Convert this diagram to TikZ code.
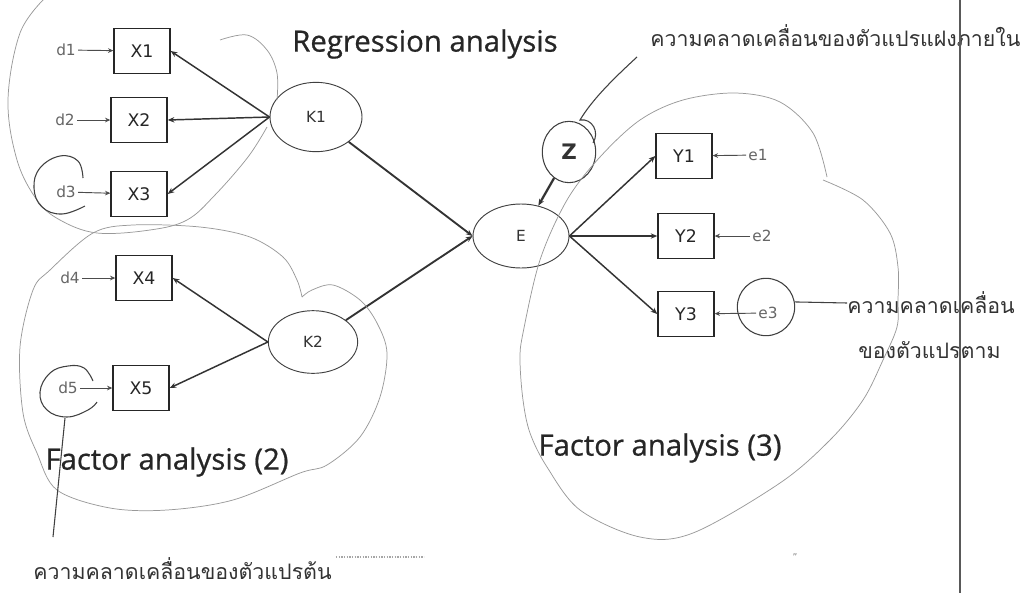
\documentclass[tikz,border=0pt]{standalone}
\usepackage{fontspec}
\setmainfont{DejaVu Sans}
\newfontfamily\titlefont[FakeBold=0.7]{Open Sans}
\newfontfamily\thaifont[Script=Thai]{Loma}
\usetikzlibrary{arrows.meta,shapes.geometric}
\begin{document}
\begin{tikzpicture}[x=0.75pt,y=-0.75pt,
  box/.style={draw=black!85, line width=1pt, minimum width=42pt, minimum height=34pt,
    inner sep=0pt, font=\fontsize{13}{15}\selectfont, text=black!85},
  lat/.style={draw=black!75, line width=0.7pt, ellipse, inner sep=0pt,
    font=\fontsize{11.5}{13}\selectfont, text=black!80},
  err/.style={inner sep=1.5pt, font=\fontsize{11.5}{13}\selectfont, text=black!60},
  pathar/.style={draw=black!80, line width=1.1pt, -{Stealth[length=5pt,width=4pt]}},
  smallar/.style={draw=black!70, line width=0.7pt, -{Stealth[length=4pt,width=3.5pt]}},
  grp/.style={draw=black!40, line width=0.55pt},
  hand/.style={draw=black!75, line width=0.8pt},
  ttl/.style={font=\titlefont\fontsize{22}{26}\selectfont, text=black!85, inner sep=0pt},
  thai/.style={font=\thaifont\fontsize{16}{18}\selectfont, text=black!80, inner sep=0pt, anchor=west}
]
\path[use as bounding box, fill=white] (0,0) rectangle (1031,593);

% observed X
\node[box] (X1) at (142,51) {X1};
\node[box] (X2) at (139,120) {X2};
\node[box] (X3) at (139,194) {X3};
\node[box] (X4) at (144,278) {X4};
\node[box] (X5) at (141,388) {X5};
% errors d
\node[err] (d1) at (66,50) {d1};
\node[err] (d2) at (65,120) {d2};
\node[err] (d3) at (66,192) {d3};
\node[err] (d4) at (70,278) {d4};
\node[err] (d5) at (68,388) {d5};
% latent
\node[lat, minimum width=69pt, minimum height=52pt] (K1) at (316,117) {K1};
\node[lat, minimum width=67pt, minimum height=47pt] (K2) at (313,342) {K2};
\node[lat, minimum width=72pt, minimum height=48pt] (E) at (521,236) {E};
\node[ellipse, hand, minimum width=40pt, minimum height=46pt, inner sep=0pt,
  font=\fontsize{16}{18}\selectfont\bfseries, text=black!80] (Z) at (569,152) {Z};
% observed Y
\node[box] (Y1) at (684,156) {Y1};
\node[box] (Y2) at (686,236) {Y2};
\node[box] (Y3) at (686,314) {Y3};
\node[err] (e1) at (758,155) {e1};
\node[err] (e2) at (762,236) {e2};
\node[err] (e3) at (768,313) {e3};
\node[circle, hand, minimum size=43pt, inner sep=0pt] (e3c) at (766,307) {};

% connectors
\foreach \d/\x in {d1/X1,d2/X2,d3/X3,d4/X4,d5/X5} \draw[smallar] (\d) -- (\x);
\foreach \x in {X1,X2,X3} \draw[pathar] (K1.west) -- (\x.east);
\foreach \x in {X4,X5} \draw[pathar] (K2.west) -- (\x.east);
\draw[pathar, line width=1.4pt] (K1) -- (E.west);
\draw[pathar, line width=1.4pt] (K2) -- (E.west);
\foreach \y in {Y1,Y2,Y3} \draw[pathar] (E.east) -- (\y.west);
\draw[pathar, line width=1.7pt] (Z) -- (E);
\draw[smallar] (e1) -- (Y1);
\draw[smallar] (e2) -- (Y2);
\draw[smallar] (e3) -- (Y3);

% titles
\node[ttl] (reg) at (425,44) {Regression analysis};
\node[ttl] (fa2) at (167,462) {Factor analysis (2)};
\node[ttl] (fa3) at (660,448) {Factor analysis (3)};

% group loops (hand drawn, light)
\draw[grp] plot[smooth, tension=0.6] coordinates {(45,-2) (20,33) (8,100) (17,160) (37,200) (60,220) (97,233) (150,230) (187,220) (215,195) (248,157) (267,127)};
\draw[grp] plot[smooth, tension=0.6] coordinates {(220,40) (247,35) (267,50) (277,73) (277,100)};
\draw[grp] plot[smooth, tension=0.55] coordinates {(302,297) (297,280) (283,257) (250,237) (200,227) (133,225) (93,233) (50,270) (33,290) (20,347) (23,413) (37,453) (57,490) (110,508) (167,510) (233,500) (300,473) (327,465) (360,437) (380,397) (387,353) (377,323) (360,300) (333,285) (312,290) (302,297)};
\draw[grp] plot[smooth, tension=0.55] coordinates {(827,177) (813,133) (780,102) (735,93) (683,100) (640,120) (600,157) (567,200) (540,260) (523,333) (520,360) (523,400) (530,433) (547,467) (580,510) (640,537) (693,533) (780,483) (830,440) (863,400) (883,360) (897,327) (898,300) (898,267) (890,233) (863,200) (823,180)};

% hand annotations
\draw[hand] plot[smooth, tension=0.7] coordinates {(83,178) (78,161) (60,156) (40,168) (34,188) (42,207) (62,214) (85,206)};
\draw[hand] plot[smooth, tension=0.7] coordinates {(93,381) (84,368) (68,366) (50,373) (40,392) (47,410) (67,417) (88,410) (97,402)};
\coordinate (d5tail) at (65,418);
\node[thai] (tbot) at (33,569) {ความคลาดเคลื่อนของตัวแปรต้น};
\draw[hand] (d5tail) -- (53,537);
\draw[black!35, line width=1.2pt, dash pattern=on 1.2pt off 0.8pt] (tbot.east) ++(4,-12) -- ++(88,0);

\node[thai] (tz) at (650,36) {ความคลาดเคลื่อนของตัวแปรแฝงภายใน};
\coordinate (zl) at (637,57);
\draw[hand] (zl) .. controls (612,80) and (592,100) .. (580,120) .. controls (592,118) and (600,132) .. (593,143);

\node[thai] (t3a) at (847,303) {ความคลาดเคลื่อน};
\node[thai] (t3b) at (858,350) {ของตัวแปรตาม};
\draw[hand] (e3c.10) -- (t3a.west);

\node[inner sep=0pt, font=\fontsize{7}{7}\selectfont, text=black!50] (tick) at (795,557) {"};

% page edge line
\draw[black!65, line width=1pt] (960,0) -- (960,593);
\end{tikzpicture}
\end{document}
